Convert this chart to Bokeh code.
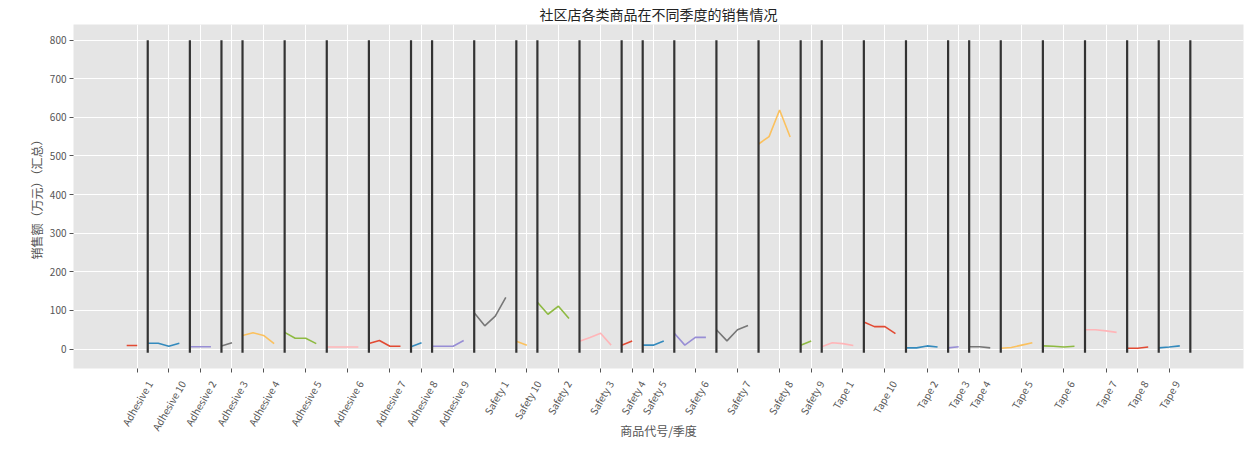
import math
from bokeh.plotting import figure
from bokeh.models import Range1d, FixedTicker, LinearAxis
from bokeh.embed import file_html
from bokeh.resources import INLINE

# ---------------- data ----------------
products = [
    "Adhesive 1", "Adhesive 10", "Adhesive 2", "Adhesive 3", "Adhesive 4",
    "Adhesive 5", "Adhesive 6", "Adhesive 7", "Adhesive 8", "Adhesive 9",
    "Safety 1", "Safety 10", "Safety 2", "Safety 3", "Safety 4",
    "Safety 5", "Safety 6", "Safety 7", "Safety 8", "Safety 9",
    "Tape 1", "Tape 10", "Tape 2", "Tape 3", "Tape 4",
    "Tape 5", "Tape 6", "Tape 7", "Tape 8", "Tape 9",
]

# quarterly sales (万元) per product, in quarter order
adhesive_sales = [
    [9, 9], [15, 15, 7, 15], [6, 6, 6], [8, 16], [35, 42, 35, 14],
    [43, 28, 28, 14], [5, 5, 5, 5], [14, 22, 7, 7], [6, 16], [7, 7, 7, 22],
]
safety_sales = [
    [94, 60, 85, 134], [20, 10], [121, 90, 111, 79], [20, 30, 41, 10], [10, 21],
    [10, 10, 21], [41, 10, 30, 30], [50, 21, 50, 61], [531, 550, 619, 549], [10, 21],
]
tape_sales = [
    [6, 16, 14, 9], [70, 58, 58, 40], [3, 3, 8, 5], [3, 6], [6, 6, 3],
    [2, 4, 10, 16], [8, 7, 5, 7], [50, 50, 47, 43], [2, 2, 5], [3, 5, 8],
]

vline_bottom = -10
vline_top = 800
y_ticks = [0, 100, 200, 300, 400, 500, 600, 700, 800]

palette = ["#E24A33", "#348ABD", "#988ED5", "#777777", "#FBC15E", "#8EBA42", "#FFB5B8"]

title_text = "社区店各类商品在不同季度的销售情况"
x_label = "商品代号/季度"
y_label = "销售额（万元）（汇总）"

FONT = "Noto Sans CJK SC"
LABEL_PX = 10

# ---------------- derived layout from data ----------------
all_sales = adhesive_sales + safety_sales + tape_sales
starts, ends, tick_pos = [], [], []
pos = 0
for vals in all_sales:
    starts.append(pos)
    tick_pos.append(pos + len(vals) // 2)
    pos += len(vals)
    ends.append(pos)
total = pos

xm = 0.05 * total
ym = 0.05 * (vline_top - vline_bottom)

W, H = 1244, 441
BL, BR, BT, BB = 73, 1, 24, 72

p = figure(
    width=W, height=H,
    output_backend="svg", toolbar_location=None,
    x_range=Range1d(-xm, total + xm),
    y_range=Range1d(vline_bottom - ym, vline_top + ym),
    min_border_left=BL, min_border_right=BR, min_border_top=BT, min_border_bottom=BB,
)

for k, vals in enumerate(all_sales):
    xs = list(range(starts[k], starts[k] + len(vals)))
    p.line(x=xs, y=vals, line_color=palette[k % len(palette)], line_width=1.6)

p.segment(x0=ends, y0=[vline_bottom] * len(ends), x1=ends, y1=[vline_top] * len(ends),
          line_color="#333333", line_width=2.2)

# style (ggplot-like)
p.background_fill_color = "#E5E5E5"
p.border_fill_color = "white"
p.outline_line_color = None
p.xgrid.grid_line_color = "white"
p.ygrid.grid_line_color = "white"
p.xgrid.grid_line_width = 1
p.ygrid.grid_line_width = 1

p.xaxis.ticker = FixedTicker(ticks=tick_pos)
p.xaxis.major_label_overrides = {t: "" for t in tick_pos}
p.yaxis.ticker = FixedTicker(ticks=y_ticks)

# second (label-only) x axis: rotated names centred under their ticks, matplotlib style
px_per_unit = (W - BL - BR) / (total + 2 * xm)
label_ticks = [round(t + 0.25 * 0.5 * LABEL_PX * len(s) / px_per_unit, 4)
               for t, s in zip(tick_pos, products)]
ax2 = LinearAxis(ticker=FixedTicker(ticks=label_ticks),
                 major_label_overrides={lt: s for lt, s in zip(label_ticks, products)})
p.add_layout(ax2, "below")

for ax in (p.xaxis[0], ax2, p.yaxis[0]):
    ax.axis_line_color = None
    ax.major_tick_line_color = "#555555"
    ax.major_tick_in = 0
    ax.major_tick_out = 4
    ax.minor_tick_line_color = None
    ax.major_label_text_color = "#555555"
    ax.major_label_text_font = FONT
    ax.major_label_text_font_size = "%dpx" % LABEL_PX
    ax.axis_label_text_font = FONT
    ax.axis_label_text_font_size = "12px"
    ax.axis_label_text_font_style = "normal"
    ax.axis_label_text_color = "#555555"

p.xaxis[0].major_label_standoff = 0
p.xaxis[0].major_label_text_font_size = "0px"
ax2.major_tick_line_color = None
ax2.major_tick_out = 0
ax2.major_label_standoff = 9
ax2.major_label_orientation = math.pi / 3
ax2.axis_label = x_label
ax2.axis_label_standoff = -18

p.yaxis.axis_label = y_label
p.yaxis.major_label_standoff = 3
p.yaxis.axis_label_standoff = 2

p.title.text = title_text
p.title.align = "center"
p.title.text_font = FONT
p.title.text_font_size = "14px"
p.title.text_font_style = "normal"
p.title.text_color = "#222222"
p.title.offset = 0
p.title.standoff = 1

open("out.html", "w").write(file_html(p, INLINE))
